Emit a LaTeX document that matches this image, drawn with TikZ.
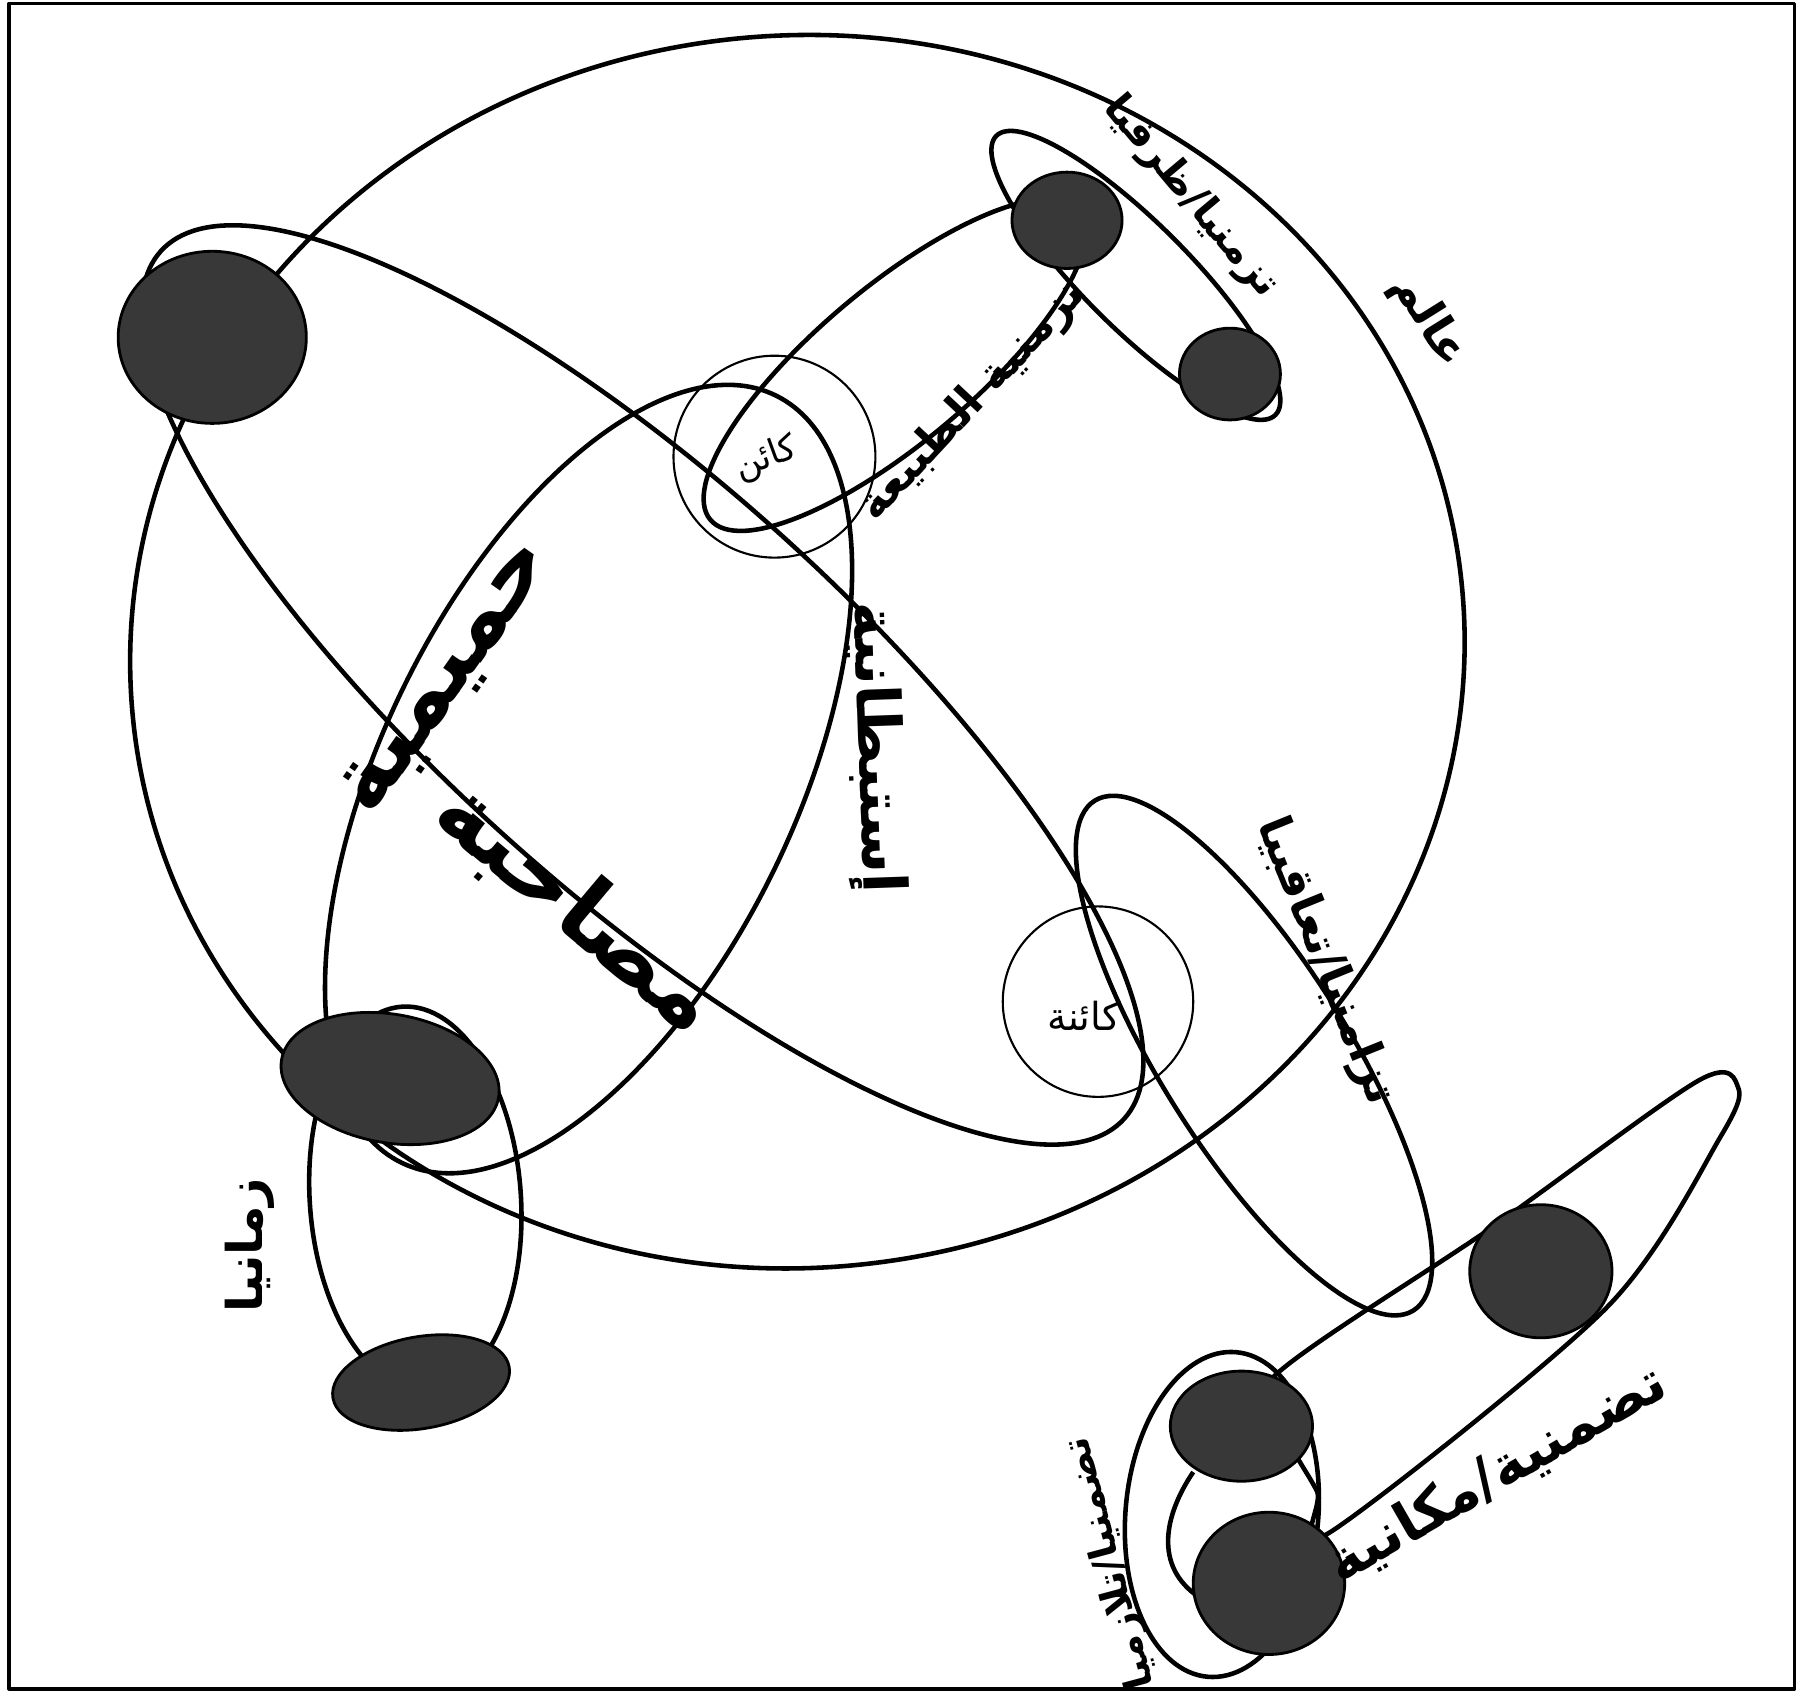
\documentclass[tikz,border=0pt]{standalone}
\usepackage{fontspec}
\newfontfamily\arabicfont[Script=Arabic]{DejaVu Sans}
\TeXXeTstate=1
\usepackage{tikz}

\begin{document}
\begin{tikzpicture}[x=0.011473cm,y=-0.011473cm,line join=round,
  ring/.style={line width=1.3pt},
  fine/.style={line width=0.6pt},
  orb/.style={draw,line width=0.8pt,fill=black!78},
  lbl/.style={inner sep=0pt,font=\arabicfont\bfseries\fontsize{13}{15}\selectfont},
  biglbl/.style={inner sep=0pt,font=\arabicfont\bfseries\fontsize{26}{30}\selectfont},
  thinlbl/.style={inner sep=0pt,font=\arabicfont\fontsize{10}{12}\selectfont}]
  \useasboundingbox (0,0) rectangle (1568,1477);
  \draw[line width=1pt] (8,3) rectangle (1564,1472);
  % centres
  \coordinate (world) at (695,568);
  \coordinate (bond) at (560,597);
  \coordinate (intim) at (513,679);
  \coordinate (nature) at (780,318);
  \coordinate (timeA) at (990,240);
  \coordinate (axes) at (1093,920);
  \coordinate (timeB) at (362,1045);
  \coordinate (pair) at (1065,1320);
  \coordinate (being) at (675,398);
  \coordinate (beingF) at (957,873);
  % rings
  \draw[ring,rotate around={6:(world)}] (world) ellipse [x radius=582,y radius=537];
  \draw[ring,rotate around={-42:(bond)}] (bond) ellipse [x radius=565,y radius=178];
  \draw[ring,rotate around={64:(intim)}] (intim) ellipse [x radius=372,y radius=180];
  \draw[ring,rotate around={40:(nature)}] (nature) ellipse [x radius=210,y radius=68];
  \draw[ring,rotate around={-45:(timeA)}] (timeA) ellipse [x radius=172,y radius=46];
  \draw[ring,rotate around={-58:(axes)}] (axes) ellipse [x radius=262,y radius=82];
  \draw[ring,rotate around={4:(timeB)}] (timeB) ellipse [x radius=92,y radius=168];
  \draw[ring,rotate around={-5:(pair)}] (pair) ellipse [x radius=84,y radius=142];
  \draw[ring] plot[smooth cycle,tension=0.5] coordinates
    {(1110,1200) (1300,1070) (1480,942) (1515,948) (1500,990) (1400,1140) (1160,1335) (1148,1300) (1120,1250)};
  \draw[ring] (1040,1283) .. controls (1015,1320) and (1005,1365) .. (1045,1392);
  \draw[fine] (being) circle [radius=88];
  \draw[fine] (beingF) circle [radius=83];
  % orbs
  \draw[orb] (185,294) ellipse [x radius=82,y radius=75];
  \draw[orb] (930,192) ellipse [x radius=48,y radius=42];
  \draw[orb] (1072,326) ellipse [x radius=44,y radius=40];
  \draw[orb,rotate around={-10:(340,940)}] (340,940) ellipse [x radius=96,y radius=56];
  \draw[orb,rotate around={10:(367,1205)}] (367,1205) ellipse [x radius=78,y radius=40];
  \draw[orb] (1343,1108) ellipse [x radius=62,y radius=58];
  \draw[orb] (1082,1243) ellipse [x radius=62,y radius=48];
  \draw[orb] (1106,1380) ellipse [x radius=66,y radius=62];
  % labels
  \node[lbl,rotate=-58] (worldlbl) at (1245,280) {\beginR عالم\endR};
  \node[lbl,rotate=-50,font=\arabicfont\bfseries\fontsize{11.5}{13}\selectfont] (timeAlbl) at (1038,172) {\beginR تزمنيا/ظرفيا\endR};
  \node[lbl,rotate=47,font=\arabicfont\bfseries\fontsize{12.5}{14}\selectfont] (naturelbl) at (848,350) {\beginR تزمنية الطبيعة\endR};
  \node[thinlbl,rotate=20] (beinglbl) at (668,400) {\beginR كائن\endR};
  \node[biglbl,rotate=55] (intimlbl) at (392,592) {\beginR حميمية\endR};
  \node[biglbl,rotate=-40] (bondlbl) at (503,792) {\beginR مصاحبة\endR};
  \node[lbl,rotate=-88,font=\arabicfont\bfseries\fontsize{17}{19}\selectfont] (introlbl) at (762,652) {\beginR إستبطانية\endR};
  \node[thinlbl,font=\arabicfont\fontsize{11}{13}\selectfont] (beingFlbl) at (945,885) {\beginR كائنة\endR};
  \node[lbl,rotate=-68] (axeslbl) at (1155,838) {\beginR تزامنيا/تعاقبيا\endR};
  \node[lbl,rotate=105,font=\arabicfont\bfseries\fontsize{11}{13}\selectfont] (pairlbl) at (968,1362) {\beginR تضمنيا/تلازميا\endR};
  \node[lbl,rotate=90,font=\arabicfont\bfseries\fontsize{14}{16}\selectfont] (timeBlbl) at (218,1085) {\beginR زمانيا\endR};
  \node[lbl,rotate=30,font=\arabicfont\bfseries\fontsize{16}{18}\selectfont] (placelbl) at (1305,1285) {\beginR تضمنية/مكانية\endR};
\end{tikzpicture}
\end{document}
